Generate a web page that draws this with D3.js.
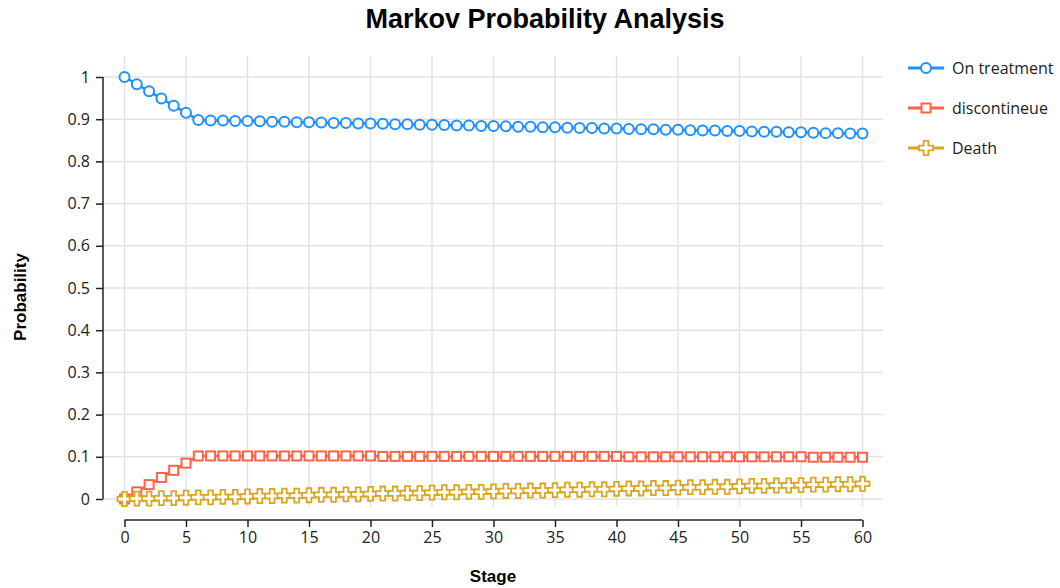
<!doctype html>
<html lang="en">
<head>
<meta charset="UTF-8">
<title>Markov Probability Analysis</title>
<script src="https://d3js.org/d3.v7.min.js"></script>
<style>
body { margin: 0; background: #fff; }
svg { display: block; }
.grid line { stroke: #e3e3e3; stroke-width: 1.5; }
.axis line { stroke: #222; stroke-width: 1.5; }
.axis text { font-family: "Open Sans", sans-serif; font-size: 16px; fill: #222; }
.legend text { font-family: "Open Sans", sans-serif; font-size: 16px; fill: #222; }
</style>
</head>
<body>
<div id="plot"></div>
<script>

var width = 1060;
var height = 588;

// stage 0..60
var stages = d3.range(0, 61);

var onTreatment = [1.000, 0.983, 0.966, 0.949, 0.932, 0.915, 0.898, 0.897, 0.897, 0.896,
	0.896, 0.895, 0.894, 0.894, 0.893, 0.893, 0.892, 0.891, 0.891, 0.890,
	0.890, 0.889, 0.888, 0.888, 0.887, 0.887, 0.886, 0.885, 0.885, 0.884,
	0.884, 0.883, 0.882, 0.882, 0.881, 0.881, 0.880, 0.879, 0.879, 0.878,
	0.878, 0.877, 0.876, 0.876, 0.875, 0.875, 0.874, 0.873, 0.873, 0.872,
	0.872, 0.871, 0.870, 0.870, 0.869, 0.869, 0.868, 0.867, 0.867, 0.866,
	0.866];

var discontinue = [0.000, 0.017, 0.034, 0.051, 0.068, 0.085, 0.102, 0.102, 0.102, 0.102,
	0.102, 0.102, 0.102, 0.102, 0.102, 0.102, 0.102, 0.102, 0.102, 0.102,
	0.102, 0.101, 0.101, 0.101, 0.101, 0.101, 0.101, 0.101, 0.101, 0.101,
	0.101, 0.101, 0.101, 0.101, 0.101, 0.101, 0.101, 0.101, 0.101, 0.101,
	0.101, 0.100, 0.100, 0.100, 0.100, 0.100, 0.100, 0.100, 0.100, 0.100,
	0.100, 0.100, 0.100, 0.100, 0.100, 0.100, 0.099, 0.099, 0.099, 0.099,
	0.099];

var death = [0.000, 0.001, 0.001, 0.002, 0.002, 0.003, 0.004, 0.004, 0.005, 0.005,
	0.006, 0.007, 0.007, 0.008, 0.008, 0.009, 0.010, 0.010, 0.011, 0.011,
	0.012, 0.013, 0.013, 0.014, 0.014, 0.015, 0.016, 0.016, 0.017, 0.017,
	0.018, 0.019, 0.019, 0.020, 0.020, 0.021, 0.022, 0.022, 0.023, 0.023,
	0.024, 0.025, 0.025, 0.026, 0.026, 0.027, 0.028, 0.028, 0.029, 0.029,
	0.030, 0.031, 0.031, 0.032, 0.032, 0.033, 0.034, 0.034, 0.035, 0.035,
	0.036];

var xTicks = [0, 5, 10, 15, 20, 25, 30, 35, 40, 45, 50, 55, 60];
var yTicks = [0, 0.1, 0.2, 0.3, 0.4, 0.5, 0.6, 0.7, 0.8, 0.9, 1];

var seriesNames = ["On treatment", "discontineue", "Death"];
var seriesColors = ["#1e90ff", "#ff6347", "#daa520"];
var seriesValues = [onTreatment, discontinue, death];
var seriesShapes = ["circle", "square", "cross"];

var svg = d3.select("#plot").append("svg")
	.attr("width", width)
	.attr("height", height);

var xScale = d3.scaleLinear().domain([0, 60]).range([124.5, 862.5]);
var yScale = d3.scaleLinear().domain([0, 1]).range([499, 77]);

var gridLeft = 103, gridRight = 883, gridTop = 56, gridBottom = 507;
var xAxisY = 520;

// grid
var grid = svg.append("g").attr("class", "grid");
grid.selectAll("line.v").data(xTicks).enter().append("line")
	.attr("class", "v")
	.attr("x1", function (d) { return xScale(d); })
	.attr("x2", function (d) { return xScale(d); })
	.attr("y1", gridTop).attr("y2", gridBottom);
grid.selectAll("line.h").data(yTicks).enter().append("line")
	.attr("class", "h")
	.attr("x1", gridLeft).attr("x2", gridRight)
	.attr("y1", function (d) { return yScale(d); })
	.attr("y2", function (d) { return yScale(d); });

// axes
var xAxis = d3.axisBottom(xScale).tickValues(xTicks).tickSize(7).tickPadding(5)
	.tickFormat(d3.format("d"));
svg.append("g")
	.attr("class", "axis")
	.attr("transform", "translate(0," + xAxisY + ")")
	.call(xAxis);

var yAxis = d3.axisLeft(yScale).tickValues(yTicks).tickSize(7).tickPadding(6)
	.tickFormat(function (d) { return String(d); });
svg.append("g")
	.attr("class", "axis")
	.attr("transform", "translate(" + gridLeft + ",0)")
	.call(yAxis);

// plain domain lines without end caps
svg.selectAll(".axis .domain").remove();
svg.append("line").attr("x1", xScale(0)).attr("x2", xScale(60))
	.attr("y1", xAxisY).attr("y2", xAxisY).style("stroke", "#222").style("stroke-width", 1.5);
svg.append("line").attr("x1", gridLeft).attr("x2", gridLeft)
	.attr("y1", yScale(1)).attr("y2", yScale(0)).style("stroke", "#222").style("stroke-width", 1.5);

// marker drawing
function drawMarker(sel, shape, color) {
	if (shape === "circle") {
		sel.append("circle").attr("r", 5)
			.style("fill", "#fff").style("stroke", color).style("stroke-width", 2);
	} else if (shape === "square") {
		sel.append("rect").attr("x", -4.5).attr("y", -4.5).attr("width", 9).attr("height", 9)
			.style("fill", "#fff").style("stroke", color).style("stroke-width", 2);
	} else {
		sel.append("path")
			.attr("d", d3.symbol().type(d3.symbolCross).size(110)())
			.style("fill", "#fff").style("stroke", color).style("stroke-width", 1.8);
	}
}

var line = d3.line()
	.x(function (d) { return xScale(d[0]); })
	.y(function (d) { return yScale(d[1]); });

seriesValues.forEach(function (vals, i) {
	var pts = stages.map(function (s, j) { return [s, vals[j]]; });
	svg.append("path")
		.attr("d", line(pts))
		.style("fill", "none")
		.style("stroke", seriesColors[i])
		.style("stroke-width", 2.5);
	svg.append("g").selectAll("g").data(pts).enter().append("g")
		.attr("transform", function (d) { return "translate(" + xScale(d[0]) + "," + yScale(d[1]) + ")"; })
		.each(function () { drawMarker(d3.select(this), seriesShapes[i], seriesColors[i]); });
});

// legend
var legend = svg.append("g").attr("class", "legend");
seriesNames.forEach(function (name, i) {
	var g = legend.append("g").attr("transform", "translate(908," + (68 + i * 40) + ")");
	g.append("line").attr("x1", 0).attr("x2", 36).attr("y1", 0).attr("y2", 0)
		.style("stroke", seriesColors[i]).style("stroke-width", 3);
	var m = g.append("g").attr("transform", "translate(18,0)");
	drawMarker(m, seriesShapes[i], seriesColors[i]);
	g.append("text").attr("x", 44).attr("y", 0).attr("dy", "0.35em").text(name);
});

// titles
svg.append("text")
	.attr("x", 545).attr("y", 28)
	.attr("text-anchor", "middle")
	.style("font-family", "'Liberation Sans', Arial, sans-serif")
	.style("font-weight", "bold")
	.style("font-size", "27px")
	.text("Markov Probability Analysis");

svg.append("text")
	.attr("transform", "translate(26,297) rotate(-90)")
	.attr("text-anchor", "middle")
	.style("font-family", "'Liberation Sans', Arial, sans-serif")
	.style("font-weight", "bold")
	.style("font-size", "17px")
	.text("Probability");

svg.append("text")
	.attr("x", 493).attr("y", 582)
	.attr("text-anchor", "middle")
	.style("font-family", "'Liberation Sans', Arial, sans-serif")
	.style("font-weight", "bold")
	.style("font-size", "17px")
	.text("Stage");

</script>
</body>
</html>
